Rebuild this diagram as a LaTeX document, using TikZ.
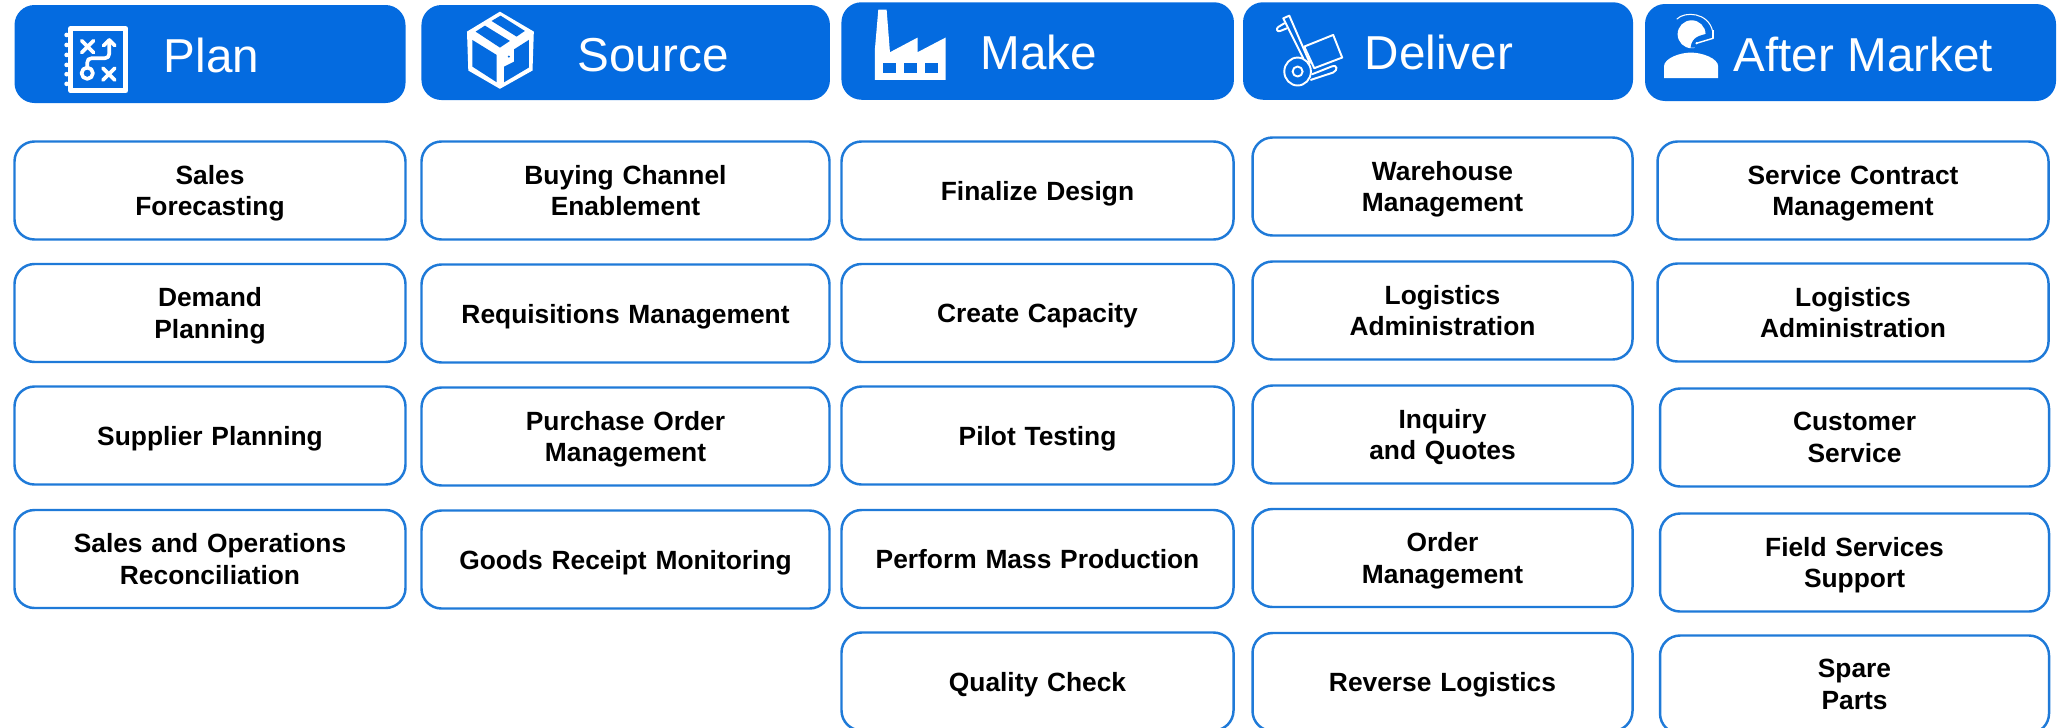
\documentclass[tikz,border=0pt]{standalone}
\usepackage{fontspec}
\setmainfont{Liberation Sans}
\definecolor{headblue}{HTML}{046BE0}
\definecolor{lineblue}{HTML}{1F7AD8}
\begin{document}
\begin{tikzpicture}

% definitions
\tikzstyle{header} = [rectangle, rounded corners=0.2cm, fill=headblue, draw=none, inner sep=0pt]
\tikzstyle{title} = [inner sep=0pt, text=white, anchor=base west, font=\fontsize{13.55}{16}\selectfont]
\tikzstyle{task} = [rectangle, rounded corners=0.2cm, draw=lineblue, line width=0.7pt, fill=white, inner sep=0pt, minimum height=0.98cm, text centered, text depth=0pt, font=\fontsize{7.5}{9}\selectfont\bfseries]
\tikzstyle{pair} = [text depth=9pt]
\tikzstyle{plantask} = [task, text width=3.91cm]
\tikzstyle{sourcetask} = [task, text width=4.08cm]
\tikzstyle{maketask} = [task, text width=3.92cm]
\tikzstyle{delivertask} = [task, text width=3.80cm]
\tikzstyle{markettask} = [task, text width=3.91cm]
\tikzstyle{icon} = [white, line join=round, line cap=round]
\tikzstyle{zoomed} = [x=0.003333cm, y=-0.003333cm]

\useasboundingbox (0,0) rectangle (20.65,-7.27);

% the headers
\node (plan) [header, minimum width=3.91cm, minimum height=0.98cm] at (2.10,-0.54) {};
\node (source) [header, minimum width=4.085cm, minimum height=0.95cm] at (6.257,-0.525) {};
\node (make) [header, minimum width=3.925cm, minimum height=0.975cm] at (10.377,-0.51) {};
\node (deliver) [header, minimum width=3.90cm, minimum height=0.975cm] at (14.38,-0.51) {};
\node (market) [header, minimum width=4.11cm, minimum height=0.97cm] at (18.505,-0.525) {};

\node (plantitle) [title] at (1.63,-0.72) {Plan};
\node (sourcetitle) [title] at (5.77,-0.71) {Source};
\node (maketitle) [title] at (9.80,-0.69) {Make};
\node (delivertitle) [title] at (13.64,-0.69) {Deliver};
\node (markettitle) [title] at (17.33,-0.71) {After Market};

% the icons
\begin{scope}[zoomed, shift={(0.50cm,-0.15cm)}]
\draw [icon, line width=1.4pt, line cap=butt] (62.5,41) rectangle (228,228);
\foreach \y in {60,90,120,150,178,207} {
  \fill [white] (50,\y) circle (7);
}
\draw [icon, line width=1.05pt] (95,77) -- (131,113) (131,77) -- (95,113);
\draw [icon, line width=1.05pt] (159,160) -- (195,196) (195,160) -- (159,196);
\draw [icon, line width=1.05pt] (112,175) circle (17);
\draw [icon, line width=1.05pt] (112,158) -- (112,143) .. controls (112,135) and (117,130) .. (125,130) -- (165,130) .. controls (173,130) and (178,125) .. (178,117) -- (178,75);
\draw [icon, line width=1.05pt] (161,92) -- (178,75) -- (195,92);
\end{scope}

\begin{scope}[zoomed, shift={(4.55cm,-0.05cm)}]
\fill [white] (135,20) -- (237,80) -- (233,197) -- (135,252) -- (40,197) -- (36,80) -- cycle;
\fill [headblue] (52,105) -- (125,150) -- (125,232) -- (52,185) -- cycle;
\fill [headblue] (222,105) -- (178,133) -- (178,170) -- (148,185) -- (148,232) -- (222,188) -- cycle;
\fill [headblue] (62,80) -- (90,62) -- (165,108) -- (135,128) -- cycle;
\fill [headblue] (110,48) -- (137,32) -- (210,78) -- (185,95) -- cycle;
\fill [headblue] (162,155) circle (3.5);
\end{scope}

\begin{scope}[zoomed, shift={(8.65cm,-0.05cm)}]
\fill [white] (30,225) -- (30,130) -- (40,14) -- (65,14) -- (75,142) -- (158,98) -- (158,142) -- (242,98) -- (242,225) -- cycle;
\foreach \x in {55,118,180} {
  \fill [headblue] (\x,175) rectangle +(38,29);
}
\end{scope}

\begin{scope}[zoomed, shift={(12.65cm,-0.05cm)}]
\draw [icon, line width=0.55pt] (115,160) -- (55,40) -- (73,32) -- (135,175);
\draw [icon, line width=0.55pt] (58,55) -- (40,66) .. controls (32,72) and (36,82) .. (46,78) -- (66,70);
\draw [icon, line width=0.55pt] (118,125) -- (205,90) -- (232,158) -- (148,190) -- cycle;
\draw [icon, line width=0.55pt] (98,200) ellipse (40 and 42);
\draw [icon, line width=0.55pt] (98,200) circle (15);
\draw [icon, line width=0.55pt] (138,225) -- (205,203) .. controls (220,195) and (218,178) .. (200,185) -- (142,208);
\end{scope}

\begin{scope}[zoomed, shift={(16.50cm,-0.05cm)}]
\fill [white] (42,220) -- (42,185) .. controls (42,160) and (90,143) .. (123,143) .. controls (156,143) and (205,160) .. (205,185) -- (205,220) -- cycle;
\fill [white] (125,88) circle (42);
\fill [headblue] (172,86) .. controls (150,92) and (126,95) .. (122,128) -- (175,130) -- cycle;
\draw [icon, line width=0.3pt] (81,42) .. controls (105,18) and (175,22) .. (188,78);
\fill [white] (185,75) rectangle (192,100);
\draw [icon, line width=0.4pt] (190,100) -- (140,115);
\fill [white] (140,115) circle (3.5);
\end{scope}

% the graph
\node (p1) [plantask, pair] at (2.10,-1.905) {Sales\\Forecasting};
\node (p2) [plantask, pair, below of=p1, yshift=-0.225cm] {Demand\\Planning};
\node (p3) [plantask, below of=p2, yshift=-0.225cm] {Supplier Planning};
\node (p4) [plantask, pair, below of=p3, yshift=-0.235cm] {Sales and Operations\\Reconciliation};

\node (s1) [sourcetask, pair] at (6.255,-1.905) {Buying Channel\\Enablement};
\node (s2) [sourcetask, below of=s1, yshift=-0.23cm] {Requisitions Management};
\node (s3) [sourcetask, pair, below of=s2, yshift=-0.23cm] {Purchase Order\\Management};
\node (s4) [sourcetask, below of=s3, yshift=-0.23cm] {Goods Receipt Monitoring};

\node (m1) [maketask] at (10.375,-1.905) {Finalize Design};
\node (m2) [maketask, below of=m1, yshift=-0.225cm] {Create Capacity};
\node (m3) [maketask, below of=m2, yshift=-0.225cm] {Pilot Testing};
\node (m4) [maketask, below of=m3, yshift=-0.235cm] {Perform Mass Production};
\node (m5) [maketask, below of=m4, yshift=-0.225cm] {Quality Check};

\node (d1) [delivertask, pair] at (14.425,-1.865) {Warehouse\\Management};
\node (d2) [delivertask, pair, below of=d1, yshift=-0.24cm] {Logistics\\Administration};
\node (d3) [delivertask, pair, below of=d2, yshift=-0.24cm] {Inquiry\\and Quotes};
\node (d4) [delivertask, pair, below of=d3, yshift=-0.235cm] {Order\\Management};
\node (d5) [delivertask, below of=d4, yshift=-0.24cm] {Reverse Logistics};

\node (a1) [markettask, pair] at (18.53,-1.905) {Service Contract\\Management};
\node (a2) [markettask, pair, below of=a1, yshift=-0.22cm] {Logistics\\Administration};
\node (a3) [markettask, pair, below of=a2, yshift=-0.25cm, text width=3.89cm, xshift=0.015cm] {Customer\\Service};
\node (a4) [markettask, pair, below of=a3, yshift=-0.25cm, text width=3.89cm] {Field Services\\Support};
\node (a5) [markettask, pair, below of=a4, yshift=-0.22cm, text width=3.89cm] {Spare\\Parts};

\end{tikzpicture}
\end{document}
